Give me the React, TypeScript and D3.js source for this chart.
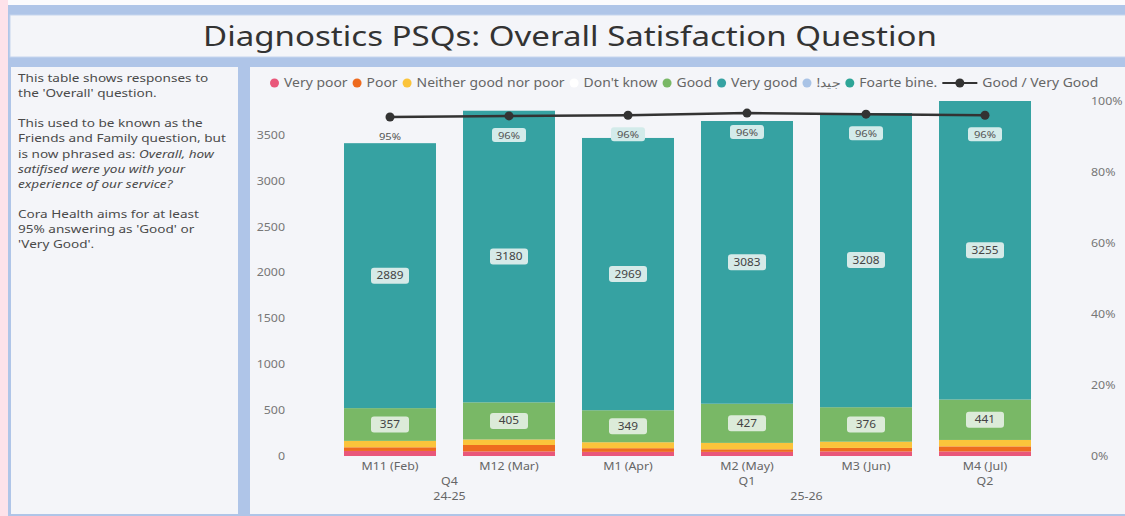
import React, { useEffect, useRef } from 'react';
import * as d3 from 'd3';

const months = ['M11 (Feb)', 'M12 (Mar)', 'M1 (Apr)', 'M2 (May)', 'M3 (Jun)', 'M4 (Jul)'];
const quarters = ['Q4', 'Q4', 'Q1', 'Q1', 'Q1', 'Q2'];
const years = ['24-25', '24-25', '25-26', '25-26', '25-26', '25-26'];

const veryPoor = [55, 50, 45, 45, 50, 50];
const poor = [40, 70, 40, 28, 38, 55];
const neither = [70, 60, 65, 70, 68, 70];
const dontKnow = [0, 0, 0, 0, 0, 0];
const good = [357, 405, 349, 427, 376, 441];
const veryGood = [2889, 3180, 2969, 3083, 3208, 3255];
const jayyid = [0, 0, 0, 0, 0, 0];
const foarteBine = [0, 0, 0, 0, 0, 0];

const goodVeryGoodPct = [0.955, 0.958, 0.96, 0.966, 0.963, 0.96];
const pctLabels = ['95%', '96%', '96%', '96%', '96%', '96%'];

const seriesNames = ['Very poor', 'Poor', 'Neither good nor poor', "Don't know", 'Good', 'Very good', '!جيد', 'Foarte bine.'];
const seriesColors = ['#e9577a', '#ee6b1f', '#fbc43b', '#ffffff', '#79b866', '#36a2a2', '#a9c3e6', '#2ea597'];
const seriesValues = [veryPoor, poor, neither, dontKnow, good, veryGood, jayyid, foarteBine];

const FONT = "'Noto Sans', 'Open Sans', sans-serif";
const K = 1.18; // horizontal stretch of the reference's text

const stretch = (node: SVGTextElement) => {
  const w = node.getComputedTextLength();
  node.setAttribute('textLength', String(w * K));
  node.setAttribute('lengthAdjust', 'spacingAndGlyphs');
  return w * K;
};

const App: React.FC = () => {
  const svgRef = useRef<SVGSVGElement>(null);

  useEffect(() => {
    document.body.style.margin = '0';
    if (!svgRef.current) return;
    const svg = d3.select(svgRef.current);
    svg.selectAll('*').remove();
    svg.style('font-family', FONT);

    // frames
    svg.append('rect').attr('width', 1125).attr('height', 516).attr('fill', '#afc5e8');
    svg.append('rect').attr('width', 1125).attr('height', 5).attr('fill', '#fbfbfd');
    svg.append('rect').attr('width', 8).attr('height', 516).attr('fill', '#fde2ea');
    svg.append('rect').attr('x', 10).attr('y', 15).attr('width', 1120).attr('height', 42)
      .attr('fill', '#f4f5f9').attr('stroke', '#c6d5ee');
    svg.append('rect').attr('x', 11).attr('y', 67).attr('width', 227).attr('height', 447).attr('fill', '#f4f5f9');
    svg.append('rect').attr('x', 250).attr('y', 67).attr('width', 880).attr('height', 447).attr('fill', '#f4f5f9');

    const title = svg.append('text').attr('x', 570).attr('y', 46).attr('text-anchor', 'middle')
      .attr('font-size', 28).attr('fill', '#333').text('Diagnostics PSQs: Overall Satisfaction Question');
    stretch(title.node() as SVGTextElement);

    // side text
    const lines: [string, string][][] = [
      [['This table shows responses to', 'normal']],
      [['the \'Overall\' question.', 'normal']],
      [],
      [['This used to be known as the', 'normal']],
      [['Friends and Family question, but', 'normal']],
      [['is now phrased as: ', 'normal'], ['Overall, how', 'italic']],
      [['satifised were you with your', 'italic']],
      [['experience of our service?', 'italic']],
      [],
      [['Cora Health aims for at least', 'normal']],
      [['95% answering as \'Good\' or', 'normal']],
      [['\'Very Good\'.', 'normal']],
    ];
    lines.forEach((parts, li) => {
      let tx = 18;
      parts.forEach(p => {
        const t = svg.append('text').attr('x', tx).attr('y', 82 + li * 15.1)
          .attr('font-size', 11.5).attr('font-style', p[1]).attr('fill', '#4a4a4a')
          .style('white-space', 'pre').text(p[0]);
        tx += stretch(t.node() as SVGTextElement);
      });
    });

    // scales
    const totals = months.map((_, i) => d3.sum(seriesValues, s => s[i]));
    const x = d3.scaleBand().domain(months).range([330.5, 1044.5]).paddingInner(0.227).paddingOuter(0.1135);
    const y = d3.scaleLinear().domain([0, d3.max(totals)!]).range([456, 101]);
    const yPct = d3.scaleLinear().domain([0, 1]).range([456, 101]);

    const rows = months.map((m, i) => {
      const r: any = { month: m };
      seriesNames.forEach((n, k) => { r[n] = seriesValues[k][i]; });
      return r;
    });
    const stacked = d3.stack<any>().keys(seriesNames)(rows);

    const g = svg.append('g');
    stacked.forEach((layer, k) => {
      g.selectAll(null).data(layer).enter().append('rect')
        .attr('x', d => x(d.data.month)!)
        .attr('width', x.bandwidth())
        .attr('y', d => y(d[1]))
        .attr('height', d => Math.max(0, y(d[0]) - y(d[1])))
        .attr('fill', seriesColors[k]);
    });

    const boxes = svg.append('g');
    const labels = svg.append('g');

    // value labels for Good / Very good
    const labelLayer = (key: string, bg: string) => {
      const layer = stacked.find(l => l.key === key)!;
      layer.forEach(d => {
        const cx = x(d.data.month)! + x.bandwidth() / 2;
        const cy = y((d[0] + d[1]) / 2);
        boxes.append('rect').attr('x', cx - 19).attr('y', cy - 8).attr('width', 38).attr('height', 16)
          .attr('rx', 3).attr('fill', bg);
        labels.append('text').attr('x', cx).attr('y', cy + 3.5).attr('text-anchor', 'middle')
          .attr('font-size', 10).attr('fill', '#444').text(String(d[1] - d[0]));
      });
    };
    labelLayer('Good', '#dcebd9');
    labelLayer('Very good', '#d6eae8');

    // left axis
    const yAxis = svg.append('g').attr('transform', 'translate(285,0)')
      .call(d3.axisLeft(y).tickValues(d3.range(0, 3501, 500)).tickFormat(d3.format('d')).tickSize(0).tickPadding(0));
    yAxis.select('.domain').remove();
    yAxis.selectAll('text').attr('font-size', 10.5).attr('fill', '#777').attr('font-family', FONT);

    const rAxis = svg.append('g').attr('transform', 'translate(1091,0)')
      .call(d3.axisRight(yPct).tickValues([0, 0.2, 0.4, 0.6, 0.8, 1]).tickFormat(d3.format('.0%')).tickSize(0).tickPadding(0));
    rAxis.select('.domain').remove();
    rAxis.selectAll('text').attr('font-size', 10.5).attr('fill', '#777').attr('font-family', FONT);

    // x labels
    months.forEach(m => {
      labels.append('text').attr('x', x(m)! + x.bandwidth() / 2).attr('y', 470).attr('text-anchor', 'middle')
        .attr('font-size', 10.5).attr('fill', '#666').text(m);
    });
    const groupCenters = (keys: string[]) => {
      const groups = d3.groups(months.map((m, i) => ({ m, k: keys[i] })), d => d.k);
      return groups.map(([k, items]) => {
        const c = items.map(it => x(it.m)! + x.bandwidth() / 2);
        return { k, c: (d3.min(c)! + d3.max(c)!) / 2 };
      });
    };
    groupCenters(quarters).forEach(q => {
      labels.append('text').attr('x', q.c).attr('y', 485).attr('text-anchor', 'middle')
        .attr('font-size', 10.5).attr('fill', '#666').text(q.k);
    });
    groupCenters(years).forEach(q => {
      labels.append('text').attr('x', q.c).attr('y', 500).attr('text-anchor', 'middle')
        .attr('font-size', 10.5).attr('fill', '#666').text(q.k);
    });

    // line
    const line = d3.line<number>().x((_, i) => x(months[i])! + x.bandwidth() / 2).y(d => yPct(d));
    svg.append('path').datum(goodVeryGoodPct).attr('d', line).attr('fill', 'none')
      .attr('stroke', '#333').attr('stroke-width', 2.5);
    goodVeryGoodPct.forEach((p, i) => {
      const cx = x(months[i])! + x.bandwidth() / 2;
      svg.append('circle').attr('cx', cx).attr('cy', yPct(p)).attr('r', 4.5).attr('fill', '#333');
      const ly = yPct(p) + 22;
      if (i > 0) {
        boxes.append('rect').attr('x', cx - 17).attr('y', ly - 10).attr('width', 34).attr('height', 14)
          .attr('rx', 3).attr('fill', '#d3ebea');
      }
      labels.append('text').attr('x', cx).attr('y', ly + 1).attr('text-anchor', 'middle')
        .attr('font-size', 9.5).attr('fill', '#555').text(pctLabels[i]);
    });

    // stretch all plain labels
    labels.selectAll<SVGTextElement, unknown>('text').each(function () { stretch(this); });
    yAxis.selectAll<SVGTextElement, unknown>('text').each(function () { stretch(this); });
    rAxis.selectAll<SVGTextElement, unknown>('text').each(function () { stretch(this); });

    // legend
    const leg = svg.append('g').attr('transform', 'translate(270,83)');
    let lx = 0;
    seriesNames.forEach((n, k) => {
      leg.append('circle').attr('cx', lx + 4.5).attr('cy', 0).attr('r', 4.5).attr('fill', seriesColors[k]);
      const t = leg.append('text').attr('x', lx + 14).attr('y', 4).attr('font-size', 11.8).attr('fill', '#666').text(n);
      lx += 14 + stretch(t.node() as SVGTextElement) + 5;
    });
    leg.append('line').attr('x1', lx).attr('x2', lx + 35).attr('y1', 0).attr('y2', 0)
      .attr('stroke', '#333').attr('stroke-width', 2);
    leg.append('circle').attr('cx', lx + 17.5).attr('cy', 0).attr('r', 4.5).attr('fill', '#333');
    const lt = leg.append('text').attr('x', lx + 40).attr('y', 4).attr('font-size', 11.8).attr('fill', '#666').text('Good / Very Good');
    stretch(lt.node() as SVGTextElement);
  }, []);

  return (
    <div style={{ position: 'absolute', left: 0, top: 0 }}>
      <svg ref={svgRef} width={1125} height={516} style={{ display: 'block' }}></svg>
    </div>
  );
};

export default App;
